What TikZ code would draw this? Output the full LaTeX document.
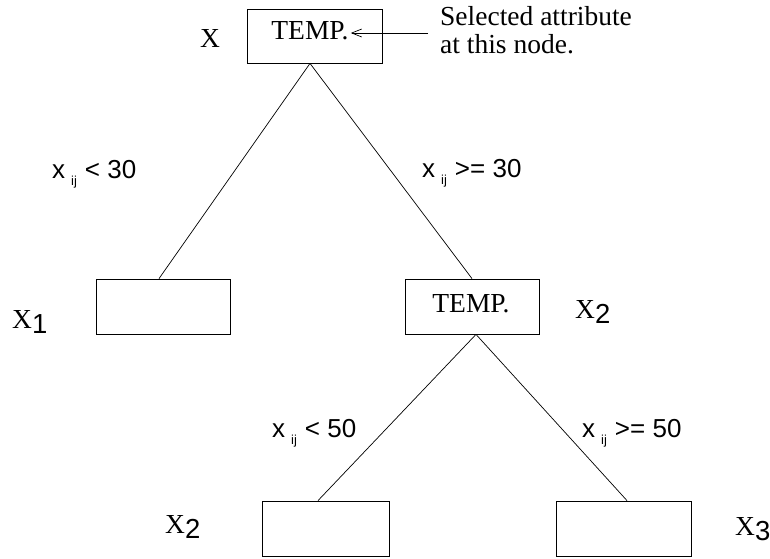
\documentclass[tikz,border=0pt]{standalone}
\usepackage{fontspec}
\setmainfont{Liberation Serif}
\newfontfamily\helv{Liberation Sans}
\usetikzlibrary{arrows.meta}
\newcommand{\xij}{x\hspace{6pt}\raisebox{-7pt}{\fontsize{13}{13}\selectfont ij}\hspace{8pt}}
\newcommand{\Xsub}[1]{X{\helv\raisebox{-5pt}{#1}}}
\tikzset{
  box/.style={draw, line width=0.8pt, inner sep=0pt, rectangle},
  edge/.style={line width=0.7pt},
  serif/.style={font=\fontsize{27.5}{28}\selectfont, inner sep=0pt, anchor=base},
  cond/.style={font=\helv\fontsize{26}{26}\selectfont, inner sep=0pt, anchor=base west},
}
\begin{document}
\begin{tikzpicture}[x=1pt, y=-1pt]
\useasboundingbox (0,0) rectangle (770,558);
% decision boxes
\node[box, minimum width=135pt, minimum height=54pt] (root) at (314.5,36) {};
\node[box, minimum width=134pt, minimum height=55pt] (left) at (163,306.5) {};
\node[box, minimum width=134pt, minimum height=55pt] (mid) at (472,306.5) {};
\node[box, minimum width=127pt, minimum height=55pt] (bl) at (325.5,528.5) {};
\node[box, minimum width=135pt, minimum height=55pt] (br) at (623.5,528.5) {};
% attribute names inside boxes
\node[serif] (t1) at (310,39) {TEMP.};
\node[serif] (t2) at (471,312) {TEMP.};
% branches
\draw[edge] ([xshift=-4.5pt]root.south) -- ([xshift=-4pt]left.north);
\draw[edge] ([xshift=-4.5pt]root.south) -- (mid.north);
\draw[edge] ([xshift=4pt]mid.south) -- ([xshift=-7.5pt]bl.north);
\draw[edge] ([xshift=4pt]mid.south) -- ([xshift=3.5pt]br.north);
% annotation
\node[font=\fontsize{27.5}{28}\selectfont, inner sep=0pt, anchor=base west, align=left] (note) at (440,53) {Selected attribute\\at this node.};
\coordinate (ns) at (428,33);
\draw[edge, -{Straight Barb[length=10pt, width=8pt]}] (ns) -- ([xshift=2pt]t1.east |- ns);
% set names
\node[serif] (s0) at (210,47) {X};
\node[serif, anchor=base west] (s1) at (12,328) {\Xsub{1}};
\node[serif, anchor=base west] (s2) at (575,318) {\Xsub{2}};
\node[serif, anchor=base west] (s3) at (165,533) {\Xsub{2}};
\node[serif, anchor=base west] (s4) at (735,535) {\Xsub{3}};
% branch conditions
\node[cond] (c1) at (52,178) {\xij< 30};
\node[cond] (c2) at (422,177) {\xij>= 30};
\node[cond] (c3) at (272,437) {\xij< 50};
\node[cond] (c4) at (582,437) {\xij>= 50};
\end{tikzpicture}
\end{document}
